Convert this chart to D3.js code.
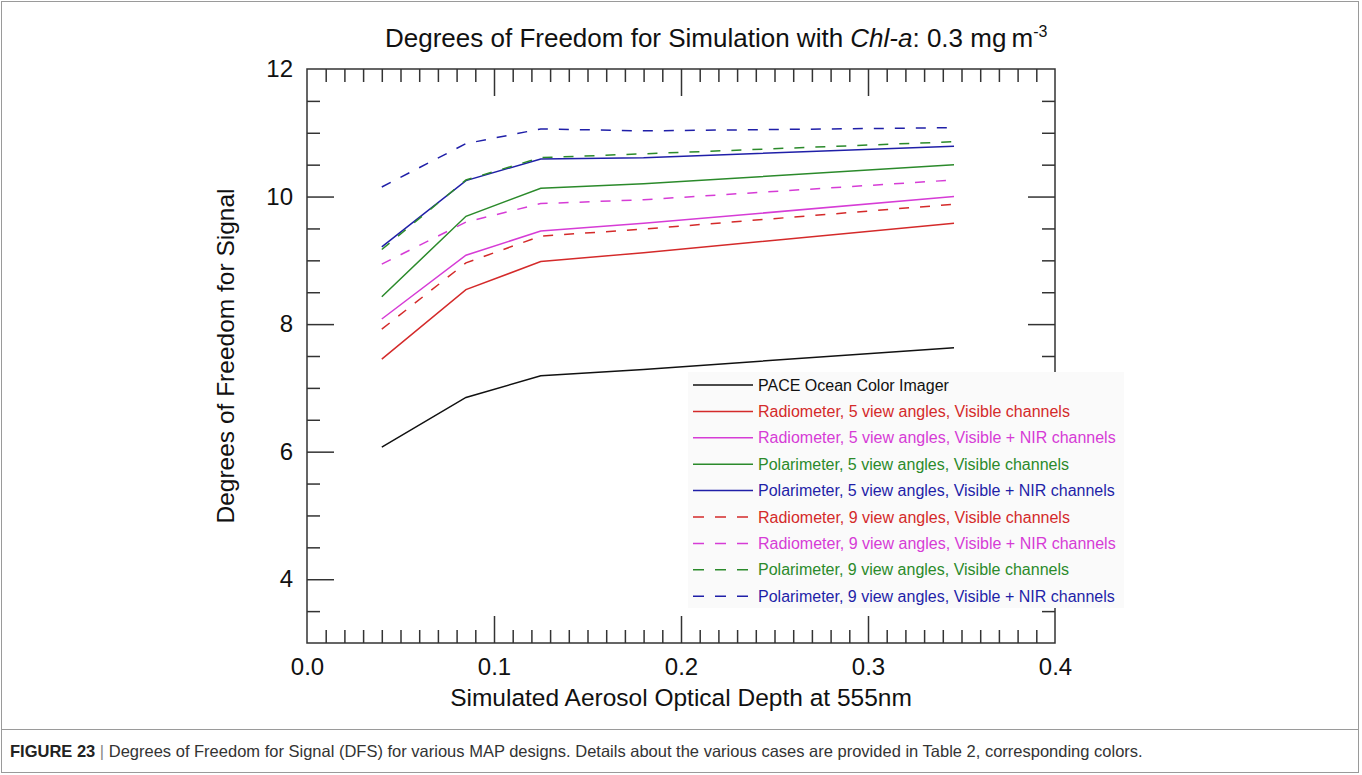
<!DOCTYPE html>
<html>
<head>
<meta charset="utf-8">
<script src="https://cdn.jsdelivr.net/npm/d3@7"></script>
<style>
  body { margin: 0; background: #fff; }
  svg { display: block; font-family: "Liberation Sans", Arial, sans-serif; }
</style>
</head>
<body>
<svg id="fig" width="1362" height="775"></svg>
<script>
// simulated AOD at 555nm
var aod = [0.04, 0.085, 0.125, 0.18, 0.346];

var seriesNames = [
  'PACE Ocean Color Imager',
  'Radiometer, 5 view angles, Visible channels',
  'Radiometer, 5 view angles, Visible + NIR channels',
  'Polarimeter, 5 view angles, Visible channels',
  'Polarimeter, 5 view angles, Visible + NIR channels',
  'Radiometer, 9 view angles, Visible channels',
  'Radiometer, 9 view angles, Visible + NIR channels',
  'Polarimeter, 9 view angles, Visible channels',
  'Polarimeter, 9 view angles, Visible + NIR channels'
];
var seriesColors = ['#111111', '#d42a2a', '#d63cd6', '#2b8a2b', '#1f1fa8',
                    '#d42a2a', '#d63cd6', '#2b8a2b', '#1f1fa8'];
var seriesDashed = [false, false, false, false, false, true, true, true, true];

var pace      = [6.07, 6.85, 7.19, 7.29, 7.63];
var rad5Vis   = [7.45, 8.54, 8.98, 9.12, 9.58];
var rad5Nir   = [8.08, 9.08, 9.46, 9.58, 10.00];
var pol5Vis   = [8.43, 9.69, 10.13, 10.20, 10.50];
var pol5Nir   = [9.21, 10.25, 10.59, 10.61, 10.79];
var rad9Vis   = [7.92, 8.96, 9.38, 9.49, 9.88];
var rad9Nir   = [8.94, 9.60, 9.89, 9.95, 10.26];
var pol9Vis   = [9.17, 10.26, 10.61, 10.67, 10.86];
var pol9Nir   = [10.15, 10.83, 11.06, 11.03, 11.08];

var seriesValues = [pace, rad5Vis, rad5Nir, pol5Vis, pol5Nir, rad9Vis, rad9Nir, pol9Vis, pol9Nir];

var xMajor = [0, 0.1, 0.2, 0.3, 0.4];
var yMajor = [4, 6, 8, 10, 12];

var svg = d3.select('#fig');

var plotL = 307, plotR = 1055, plotT = 69, plotB = 643;

var x = d3.scaleLinear().domain([0, 0.4]).range([plotL, plotR]);
var y = d3.scaleLinear().domain([3, 12]).range([plotB, plotT]);

var xMinor = d3.range(1, 40).map(d => d / 100).filter(d => Math.round(d * 100) % 10 !== 0);
var yMinor = d3.range(7, 24).map(d => d / 2).filter(d => d % 2 !== 0);

// figure border and caption separator
svg.append('rect')
  .attr('x', 1.5).attr('y', 1.5).attr('width', 1357).attr('height', 771)
  .attr('fill', 'none').attr('stroke', '#9a9a9a').attr('stroke-width', 1);
svg.append('line')
  .attr('x1', 1.5).attr('x2', 1358.5).attr('y1', 729.5).attr('y2', 729.5)
  .attr('stroke', '#9a9a9a');

// frame
svg.append('rect')
  .attr('x', plotL).attr('y', plotT).attr('width', plotR - plotL).attr('height', plotB - plotT)
  .attr('fill', 'none').attr('stroke', '#333').attr('stroke-width', 1.5);

function drawAxis(axis, tx, ty) {
  var g = svg.append('g').attr('transform', 'translate(' + tx + ',' + ty + ')').call(axis);
  g.select('.domain').remove();
  g.selectAll('.tick line').attr('stroke', '#333').attr('stroke-width', 1.5);
  return g;
}

// x axes (ticks inside)
drawAxis(d3.axisBottom(x).tickValues(xMinor).tickSize(-13).tickFormat(''), 0, plotB);
drawAxis(d3.axisTop(x).tickValues(xMinor).tickSize(-13).tickFormat(''), 0, plotT);
drawAxis(d3.axisTop(x).tickValues([0.1, 0.2, 0.3]).tickSize(-27).tickFormat(''), 0, plotT);
var xLab = drawAxis(d3.axisBottom(x).tickValues(xMajor).tickSize(-27).tickPadding(0)
  .tickFormat(d3.format('.1f')), 0, plotB);
xLab.selectAll('.tick').filter(d => d === 0 || d === 0.4).select('line').remove();
xLab.selectAll('.tick text').attr('font-size', 24).attr('fill', '#111')
  .attr('font-family', '"Liberation Sans", Arial, sans-serif').attr('dy', 0).attr('y', 32);

// y axes (ticks inside)
drawAxis(d3.axisLeft(y).tickValues(yMinor).tickSize(-13).tickFormat(''), plotL, 0);
drawAxis(d3.axisRight(y).tickValues(yMinor).tickSize(-13).tickFormat(''), plotR, 0);
drawAxis(d3.axisRight(y).tickValues([4, 6, 8, 10]).tickSize(-27).tickFormat(''), plotR, 0);
var yLab = drawAxis(d3.axisLeft(y).tickValues(yMajor).tickSize(-27).tickPadding(14)
  .tickFormat(d3.format('d')), plotL, 0);
yLab.selectAll('.tick').filter(d => d === 12).select('line').remove();
yLab.selectAll('.tick text').attr('font-size', 24).attr('fill', '#111')
  .attr('font-family', '"Liberation Sans", Arial, sans-serif').attr('x', -14);

// series lines
var line = d3.line().x((d, i) => x(aod[i])).y(d => y(d));
svg.append('g').selectAll('path')
  .data(seriesValues)
  .enter()
  .append('path')
  .attr('d', d => line(d))
  .attr('fill', 'none')
  .attr('stroke', (d, i) => seriesColors[i])
  .attr('stroke-width', 1.5)
  .attr('stroke-dasharray', (d, i) => seriesDashed[i] ? '10,11' : null);

// legend
var lg = svg.append('g');
lg.append('rect')
  .attr('x', 688).attr('y', 372).attr('width', 436).attr('height', 236)
  .attr('fill', '#fafafa');
var rows = lg.selectAll('g.row')
  .data(seriesNames)
  .enter()
  .append('g')
  .attr('class', 'row')
  .attr('transform', (d, i) => 'translate(0,' + (385 + i * 26.4) + ')');
rows.append('line')
  .attr('x1', 693).attr('x2', 753).attr('y1', 0).attr('y2', 0)
  .attr('stroke', (d, i) => seriesColors[i])
  .attr('stroke-width', 1.5)
  .attr('stroke-dasharray', (d, i) => seriesDashed[i] ? '11,11' : null);
rows.append('text')
  .attr('x', 758).attr('y', 5.5)
  .attr('font-size', 16)
  .attr('fill', (d, i) => seriesColors[i])
  .text(d => d);

// title
var title = svg.append('text')
  .attr('x', 385).attr('y', 47)
  .attr('font-size', 26).attr('fill', '#111');
title.append('tspan').text('Degrees of Freedom for Simulation with ');
title.append('tspan').attr('font-style', 'italic').text('Chl-a');
title.append('tspan').text(': 0.3 mg\u2009m');
title.append('tspan').attr('font-size', 16).attr('dy', -10).text('-3');

// axis titles
svg.append('text')
  .attr('x', (plotL + plotR) / 2).attr('y', 706)
  .attr('text-anchor', 'middle').attr('font-size', 24.5).attr('fill', '#111')
  .text('Simulated Aerosol Optical Depth at 555nm');
svg.append('text')
  .attr('transform', 'translate(234,' + (plotT + plotB) / 2 + ') rotate(-90)')
  .attr('text-anchor', 'middle').attr('font-size', 24.5).attr('fill', '#111')
  .text('Degrees of Freedom for Signal');

// caption
var cap = svg.append('text')
  .attr('x', 10).attr('y', 757)
  .attr('font-size', 16.5).attr('fill', '#333');
cap.append('tspan').attr('font-weight', 'bold').attr('fill', '#222').text('FIGURE 23');
cap.append('tspan').attr('fill', '#888').text(' | ');
cap.append('tspan').text('Degrees of Freedom for Signal (DFS) for various MAP designs. Details about the various cases are provided in Table 2, corresponding colors.');
</script>
</body>
</html>
